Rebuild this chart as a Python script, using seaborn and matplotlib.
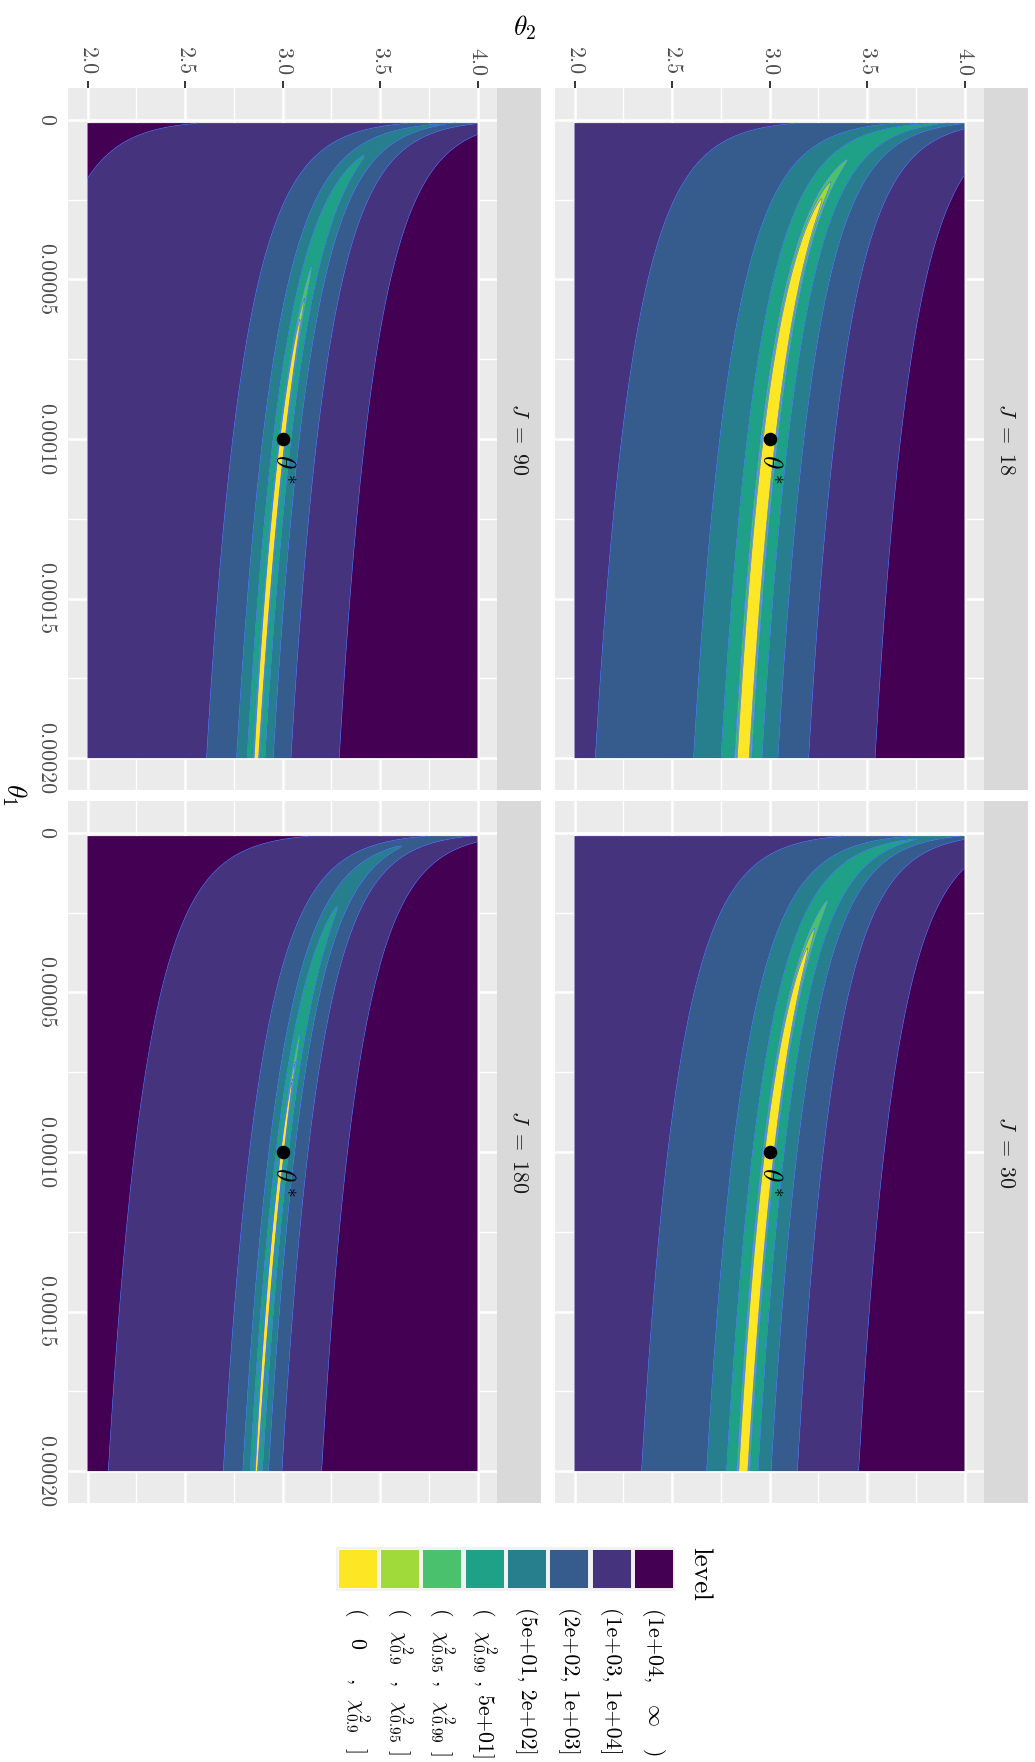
import numpy as np
import matplotlib
matplotlib.use("Agg")
import matplotlib.pyplot as plt
from matplotlib.patches import Rectangle
import seaborn as sns

# ------------------------------------------------------------------ data
# Poisson count model  mu(t) = c * theta1 * t**theta2, observed at a cycle of
# six times; the statistic is the deviance relative to the fitted parameter.
theta_star = (1e-4, 3.0)          # true parameter (theta1, theta2)
theta_hat = (1.3e-4, 2.9494)      # fitted parameter
obs_times = [80, 110, 150, 200, 270, 360]
mean_count = 9.5                  # expected count per observation at theta_star

# sample size J of each facet, keyed by (row, column) on the page
panel_J = {(0, 0): 90, (0, 1): 18, (1, 0): 180, (1, 1): 30}

chi2_90, chi2_95, chi2_99 = 4.605, 5.991, 9.210     # chi-square quantiles, 2 df
level_breaks = [0.0, chi2_90, chi2_95, chi2_99, 50.0, 200.0, 1e3, 1e4, np.inf]
level_colors = ["#FDE725", "#9FDA3A", "#4AC16D", "#1FA187",
                "#277F8E", "#365C8D", "#46337E", "#440154"]
level_labels = [
    r"(   0    ,  $\chi^2_{0.9}$  ]",
    r"(  $\chi^2_{0.9}$  ,  $\chi^2_{0.95}$ ]",
    r"(  $\chi^2_{0.95}$ ,  $\chi^2_{0.99}$ ]",
    r"(  $\chi^2_{0.99}$ , 5e+01]",
    "(5e+01, 2e+02]",
    "(2e+02, 1e+03]",
    "(1e+03, 1e+04]",
    r"(1e+04,   $\infty$   )",
]

theta1_range = (1e-6, 2e-4)
theta2_range = (2.0, 4.0)
theta1_ticks = [0.0, 5e-5, 1e-4, 1.5e-4, 2e-4]
theta1_minor = [2.5e-5, 7.5e-5, 1.25e-4, 1.75e-4]
theta1_ticklabels = ["0", "0.00005", "0.00010", "0.00015", "0.00020"]
theta2_ticks = [2.0, 2.5, 3.0, 3.5, 4.0]
theta2_minor = [2.25, 2.75, 3.25, 3.75]
theta2_ticklabels = ["2.0", "2.5", "3.0", "3.5", "4.0"]


def deviance(t1, t2, J):
    """Poisson deviance of (theta1, theta2) against the fitted counts."""
    logt = np.log(np.asarray(obs_times, dtype=float))
    z_hat = np.log(theta_hat[0] / theta_star[0]) + (theta_hat[1] - theta_star[1]) * logt
    y = mean_count * np.exp(z_hat)
    z = np.log(t1[..., None] / theta_star[0]) + (t2[..., None] - theta_star[1]) * logt
    mu = mean_count * np.exp(z)
    reps = J / len(obs_times)
    return 2.0 * reps * np.sum(mu - y - y * np.log(mu / y), axis=-1)


# ------------------------------------------------------------------ style
sns.set_theme(style="darkgrid")
plt.rcParams["font.family"] = ["cmr10", "DejaVu Sans"]
plt.rcParams["mathtext.fontset"] = "cm"
plt.rcParams["axes.formatter.use_mathtext"] = True
plt.rcParams["axes.unicode_minus"] = False

W, H = 1035, 1762
fig = plt.figure(figsize=(W / 100, H / 100), dpi=100)
fig.patch.set_facecolor("white")

TICK_FS = 15.8
TITLE_FS = 19.8


def px_axes(x0, y0, x1, y1):
    return fig.add_axes([x0 / W, 1 - y1 / H, (x1 - x0) / W, (y1 - y0) / H])


cols = [(68, 497), (555, 984)]
rows = [(88, 790), (801, 1503)]
strip_w = 44

g1 = np.linspace(*theta1_range, 420)
g2 = np.linspace(*theta2_range, 420)
T2, T1 = np.meshgrid(g2, g1)

for (r, c), J in panel_J.items():
    x0, x1 = cols[c]
    y0, y1 = rows[r]
    ax = px_axes(x0, y0, x1, y1)
    ax.set_facecolor("#EBEBEB")
    ax.set_axisbelow(True)

    S = deviance(T1, T2, J)
    top = max(float(S.max()), 1e4) * 1.1
    breaks = level_breaks[:-1] + [top]
    ax.contourf(T2, T1, S, levels=breaks, colors=level_colors, antialiased=True, zorder=1)
    ax.contour(T2, T1, S, levels=level_breaks[1:-1], colors="#3366FF",
               linewidths=0.45, alpha=0.85, zorder=2)

    sns.scatterplot(x=[theta_star[1]], y=[theta_star[0]], ax=ax, color="black",
                    s=95, linewidth=0, zorder=5, legend=False)
    ax.annotate(r"$\theta^*$", xy=(theta_star[1], theta_star[0]),
                xytext=(0, -11), textcoords="offset points",
                rotation=-90, ha="center", va="top", fontsize=TITLE_FS,
                color="black", zorder=6)

    ax.set_xlim(1.9, 4.1)
    ax.set_ylim(2.1e-4, -1e-5)
    ax.set_xticks(theta2_ticks)
    ax.set_xticks(theta2_minor, minor=True)
    ax.set_yticks(theta1_ticks)
    ax.set_yticks(theta1_minor, minor=True)
    ax.grid(which="major", color="white", linewidth=1.8)
    ax.grid(which="minor", color="white", linewidth=0.95)
    ax.set_xlabel("")
    ax.set_ylabel("")
    for sp in ax.spines.values():
        sp.set_visible(False)

    ax.tick_params(which="minor", length=0)
    ax.tick_params(which="major", length=5, width=1.4, color="#333333",
                   labelsize=TICK_FS, labelcolor="#4D4D4D", pad=4)

    if r == 0:
        ax.xaxis.tick_top()
        ax.set_xticklabels(theta2_ticklabels, rotation=-90, ha="center", va="bottom")
        ax.tick_params(axis="x", which="major", bottom=False, top=True)
    else:
        ax.tick_params(axis="x", which="both", bottom=False, top=False,
                       labelbottom=False, labeltop=False)
    if c == 0:
        ax.set_yticklabels(theta1_ticklabels, rotation=-90, ha="right", va="center")
    else:
        ax.tick_params(axis="y", which="both", left=False, right=False,
                       labelleft=False, labelright=False)

    # facet strip
    st = px_axes(x1, y0, x1 + strip_w, y1)
    st.set_facecolor("#D9D9D9")
    st.set_xticks([])
    st.set_yticks([])
    st.grid(False)
    for sp in st.spines.values():
        sp.set_visible(False)
    st.text(0.5, 0.5, rf"$J\ =\ {J}$", rotation=-90, ha="center", va="center",
            fontsize=TICK_FS, color="#1A1A1A", transform=st.transAxes)

# axis titles
fig.text(525 / W, 1 - 28 / H, r"$\theta_2$", ha="center", va="center",
         fontsize=TITLE_FS, color="black")
fig.text(14 / W, 1 - 795 / H, r"$\theta_1$", ha="center", va="center",
         rotation=-90, fontsize=TITLE_FS, color="black")

# legend drawn in pixel coordinates
ov = fig.add_axes([0, 0, 1, 1])
ov.set_xlim(0, W)
ov.set_ylim(H, 0)
ov.axis("off")
ov.patch.set_alpha(0)

key0_x, key_y, key_size, key_pitch = 337.7, 1549.0, 39.0, 42.3
ov.add_patch(Rectangle((key0_x - 2, key_y - 2.5), key_pitch * 7 + key_size + 4, key_size + 5,
                       facecolor="#F2F2F2", edgecolor="none"))
for i, (col, lab) in enumerate(zip(level_colors, level_labels)):
    kx = key0_x + i * key_pitch
    ov.add_patch(Rectangle((kx, key_y), key_size, key_size, facecolor=col,
                           edgecolor="white", linewidth=0.6))
    ov.text(kx + key_size / 2, 1607, lab, rotation=-90, ha="center", va="top",
            fontsize=TICK_FS, color="black")
ov.text(688, 1547, "level", rotation=-90, ha="left", va="top",
        fontsize=TITLE_FS, color="black")

fig.savefig("out.png", dpi=100, facecolor="white")
